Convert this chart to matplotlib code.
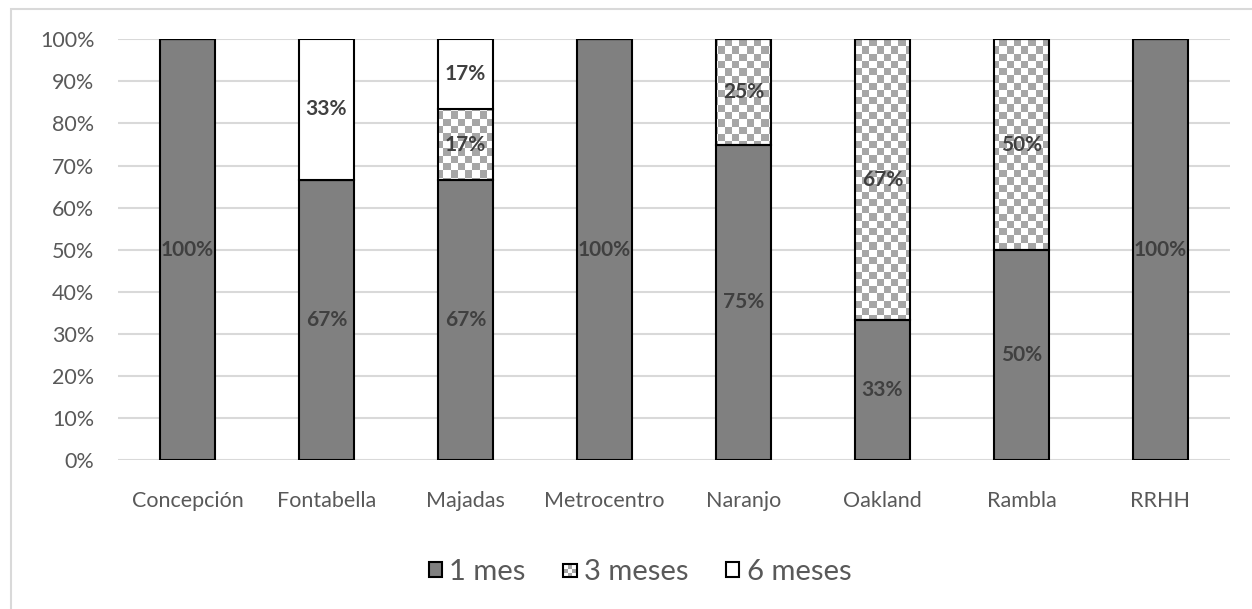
import matplotlib

matplotlib.use("Agg")
import matplotlib.pyplot as plt  # noqa: E402
import numpy as np  # noqa: E402
from matplotlib.colors import ListedColormap  # noqa: E402
from matplotlib.legend_handler import HandlerBase  # noqa: E402
from matplotlib.patches import Patch, Rectangle  # noqa: E402
from matplotlib.ticker import FuncFormatter, MultipleLocator  # noqa: E402

plt.rcParams["font.family"] = ["Lato", "DejaVu Sans"]

sites = ["Concepción", "Fontabella", "Majadas", "Metrocentro", "Naranjo", "Oakland", "Rambla", "RRHH"]
mes1 = [100, 200 / 3, 200 / 3, 100, 75, 100 / 3, 50, 100]
mes3 = [0, 0, 50 / 3, 0, 25, 200 / 3, 50, 0]
mes6 = [0, 100 / 3, 50 / 3, 0, 0, 0, 0, 0]
series_names = ["1 mes", "3 meses", "6 meses"]

TXT = "#595959"
LBL = "#404040"
GRID = "#d9d9d9"
CHK = "#a6a6a6"
W = 0.40


class CheckerHandler(HandlerBase):
    # small 3x3 checker square for the legend key
    def create_artists(self, legend, orig, xd, yd, width, height, fontsize, trans):
        s = min(width, height)
        x0, y0 = -xd, -yd
        arts = [Rectangle((x0, y0), s, s, facecolor="white", edgecolor="none", transform=trans)]
        n = 3
        c = s / n
        for i in range(n):
            for j in range(n):
                if (i + j) % 2 == 1:
                    arts.append(Rectangle((x0 + i * c, y0 + j * c), c, c, facecolor=CHK,
                                          edgecolor="none", transform=trans))
        arts.append(Rectangle((x0, y0), s, s, facecolor="none", edgecolor="black", lw=1.5,
                              transform=trans))
        return arts


fig = plt.figure(figsize=(12.52, 6.09), dpi=100)
fig.patches.append(Rectangle((11 / 1252, -0.1), 1.2, 1 - 9 / 609 + 0.1, transform=fig.transFigure,
                             facecolor="none", edgecolor=GRID, lw=1.5))
ax = fig.add_axes([118 / 1252, 1 - 460.3 / 609, (1230 - 118) / 1252, (460.3 - 39.3) / 609])

x = np.arange(len(sites))
b1 = ax.bar(x, mes1, W, color="#808080", edgecolor="black", lw=1.5, zorder=3)
b3 = ax.bar(x, mes3, W, bottom=mes1, facecolor="none", edgecolor="black", lw=1.5, zorder=3)
bottom6 = np.array(mes1) + np.array(mes3)
b6 = ax.bar(x, mes6, W, bottom=bottom6, color="white", edgecolor="black", lw=1.5, zorder=3)

ax.set_xlim(-0.5, len(sites) - 0.5)
ax.set_ylim(0, 100)

# checkerboard fill for the "3 meses" segments, clipped to each bar
cell_px = 7.2
nx, ny = int(1112 / cell_px), int(421 / cell_px)
checker = (np.add.outer(np.arange(ny), np.arange(nx)) % 2).astype(float)
for bar, v in zip(b3, mes3):
    if v <= 0:
        continue
    im = ax.imshow(checker, extent=(-0.5, len(sites) - 0.5, 0, 100), origin="lower",
                   cmap=ListedColormap(["white", CHK]), interpolation="nearest",
                   aspect="auto", zorder=2)
    im.set_clip_path(bar)

for bars, vals, bots in [(b1, mes1, [0] * 8), (b3, mes3, mes1), (b6, mes6, bottom6)]:
    for bar, v, b in zip(bars, vals, bots):
        if v <= 0:
            continue
        ax.text(bar.get_x() + bar.get_width() / 2, b + v / 2, f"{round(v)}%", ha="center",
                va="center", fontsize=15, fontweight="bold", color=LBL, zorder=4)

ax.yaxis.set_major_locator(MultipleLocator(10))
ax.yaxis.set_major_formatter(FuncFormatter(lambda v, _: f"{v:.0f}%"))
ax.grid(axis="y", color=GRID, lw=1.5, zorder=0)
ax.set_axisbelow(True)
for s in ax.spines.values():
    s.set_visible(False)
ax.tick_params(length=0, labelsize=15.5, labelcolor=TXT)
ax.tick_params(axis="y", pad=17)
ax.tick_params(axis="x", pad=22)
ax.set_xticks(x, sites)

handles = [Patch(facecolor="#808080", edgecolor="black", lw=1.5),
           Patch(facecolor="white", edgecolor="black"),
           Patch(facecolor="white", edgecolor="black", lw=1.5)]
fig.legend(handles, series_names, loc="center", bbox_to_anchor=(640 / 1252, 1 - 572 / 609), ncol=3,
           frameon=False, fontsize=21, labelcolor=TXT, handlelength=0.45, handleheight=0.45,
           handletextpad=0.25, columnspacing=1.3, handler_map={handles[1]: CheckerHandler()})

fig.savefig("out.png", dpi=100)
